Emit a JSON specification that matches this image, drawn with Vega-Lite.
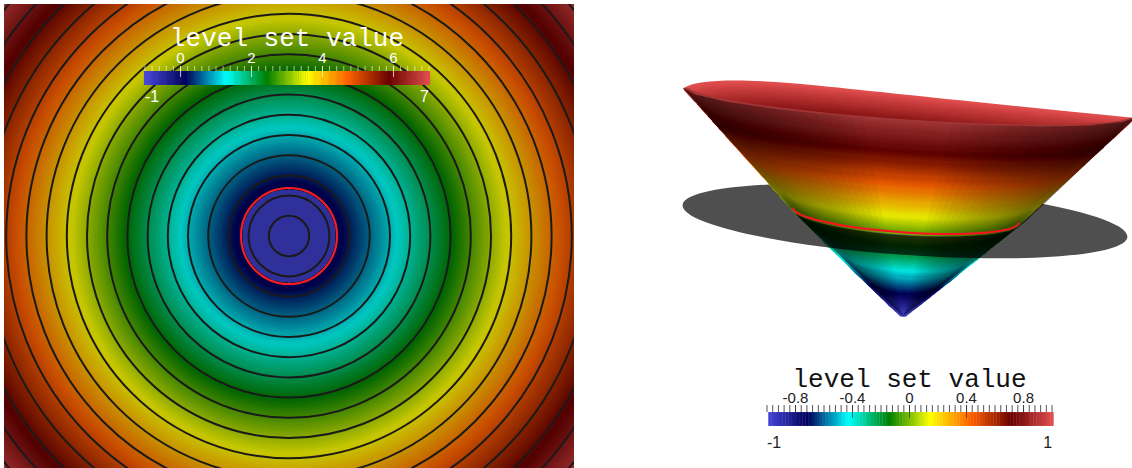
{"$schema":"https://vega.github.io/schema/vega-lite/v6.json","background":"white","padding":{"left":4,"top":4,"right":0,"bottom":0},"spacing":18,"config":{"view":{"stroke":null}},
"resolve":{"scale":{"color":"independent","size":"independent","shape":"independent","opacity":"independent","radius":"independent"}},
"datasets":{
"rings":[{"level":7},{"level":6.95},{"level":6.9},{"level":6.85},{"level":6.8},{"level":6.75},{"level":6.7},{"level":6.65},{"level":6.6},{"level":6.55},{"level":6.5},{"level":6.45},{"level":6.4},{"level":6.35},{"level":6.3},{"level":6.25},{"level":6.2},{"level":6.15},{"level":6.1},{"level":6.05},{"level":6},{"level":5.95},{"level":5.9},{"level":5.85},{"level":5.8},{"level":5.75},{"level":5.7},{"level":5.65},{"level":5.6},{"level":5.55},{"level":5.5},{"level":5.45},{"level":5.4},{"level":5.35},{"level":5.3},{"level":5.25},{"level":5.2},{"level":5.15},{"level":5.1},{"level":5.05},{"level":5},{"level":4.95},{"level":4.9},{"level":4.85},{"level":4.8},{"level":4.75},{"level":4.7},{"level":4.65},{"level":4.6},{"level":4.55},{"level":4.5},{"level":4.45},{"level":4.4},{"level":4.35},{"level":4.3},{"level":4.25},{"level":4.2},{"level":4.15},{"level":4.1},{"level":4.05},{"level":4},{"level":3.95},{"level":3.9},{"level":3.85},{"level":3.8},{"level":3.75},{"level":3.7},{"level":3.65},{"level":3.6},{"level":3.55},{"level":3.5},{"level":3.45},{"level":3.4},{"level":3.35},{"level":3.3},{"level":3.25},{"level":3.2},{"level":3.15},{"level":3.1},{"level":3.05},{"level":3},{"level":2.95},{"level":2.9},{"level":2.85},{"level":2.8},{"level":2.75},{"level":2.7},{"level":2.65},{"level":2.6},{"level":2.55},{"level":2.5},{"level":2.45},{"level":2.4},{"level":2.35},{"level":2.3},{"level":2.25},{"level":2.2},{"level":2.15},{"level":2.1},{"level":2.05},{"level":2},{"level":1.95},{"level":1.9},{"level":1.85},{"level":1.8},{"level":1.75},{"level":1.7},{"level":1.65},{"level":1.6},{"level":1.55},{"level":1.5},{"level":1.45},{"level":1.4},{"level":1.35},{"level":1.3},{"level":1.25},{"level":1.2},{"level":1.15},{"level":1.1},{"level":1.05},{"level":1},{"level":0.95},{"level":0.9},{"level":0.85},{"level":0.8},{"level":0.75},{"level":0.7},{"level":0.65},{"level":0.6},{"level":0.55},{"level":0.5},{"level":0.45},{"level":0.4},{"level":0.35},{"level":0.3},{"level":0.25},{"level":0.2},{"level":0.15},{"level":0.1},{"level":0.05},{"level":0},{"level":-0.05},{"level":-0.1},{"level":-0.15},{"level":-0.2},{"level":-0.25},{"level":-0.3},{"level":-0.35},{"level":-0.4},{"level":-0.45},{"level":-0.5},{"level":-0.55},{"level":-0.6},{"level":-0.65},{"level":-0.7},{"level":-0.75},{"level":-0.8},{"level":-0.85},{"level":-0.9},{"level":-0.95},{"level":-1}],
"contours":[{"level":6.575},{"level":6.154},{"level":5.733},{"level":5.313},{"level":4.892},{"level":4.471},{"level":4.05},{"level":3.629},{"level":3.208},{"level":2.788},{"level":2.367},{"level":1.946},{"level":1.525},{"level":1.104},{"level":0.683},{"level":0.262},{"level":-0.158},{"level":-0.579}],
"ticksL":[{"level":-1},{"level":-0.8},{"level":-0.6},{"level":-0.4},{"level":-0.2},{"level":0},{"level":0.2},{"level":0.4},{"level":0.6},{"level":0.8},{"level":1},{"level":1.2},{"level":1.4},{"level":1.6},{"level":1.8},{"level":2},{"level":2.2},{"level":2.4},{"level":2.6},{"level":2.8},{"level":3},{"level":3.2},{"level":3.4},{"level":3.6},{"level":3.8},{"level":4},{"level":4.2},{"level":4.4},{"level":4.6},{"level":4.8},{"level":5},{"level":5.2},{"level":5.4},{"level":5.6},{"level":5.8},{"level":6},{"level":6.2},{"level":6.4},{"level":6.6},{"level":6.8},{"level":7}],
"ticksR":[{"level":-1},{"level":-0.96},{"level":-0.92},{"level":-0.88},{"level":-0.84},{"level":-0.8},{"level":-0.76},{"level":-0.72},{"level":-0.68},{"level":-0.64},{"level":-0.6},{"level":-0.56},{"level":-0.52},{"level":-0.48},{"level":-0.44},{"level":-0.4},{"level":-0.36},{"level":-0.32},{"level":-0.28},{"level":-0.24},{"level":-0.2},{"level":-0.16},{"level":-0.12},{"level":-0.08},{"level":-0.04},{"level":0},{"level":0.04},{"level":0.08},{"level":0.12},{"level":0.16},{"level":0.2},{"level":0.24},{"level":0.28},{"level":0.32},{"level":0.36},{"level":0.4},{"level":0.44},{"level":0.48},{"level":0.52},{"level":0.56},{"level":0.6},{"level":0.64},{"level":0.68},{"level":0.72},{"level":0.76},{"level":0.8},{"level":0.84},{"level":0.88},{"level":0.92},{"level":0.96},{"level":1}],
"cone":[{"level":1,"x":0.054,"y":1.885,"half":2,"curve":"c1"},{"level":0.98,"x":0.053,"y":1.865,"half":1.98,"curve":"c1"},{"level":0.96,"x":0.053,"y":1.845,"half":1.96,"curve":"c1"},{"level":0.94,"x":0.052,"y":1.826,"half":1.94,"curve":"c1"},{"level":0.92,"x":0.052,"y":1.806,"half":1.92,"curve":"c1"},{"level":0.9,"x":0.051,"y":1.786,"half":1.9,"curve":"c1"},{"level":0.88,"x":0.051,"y":1.766,"half":1.88,"curve":"c1"},{"level":0.86,"x":0.05,"y":1.746,"half":1.86,"curve":"c2"},{"level":0.84,"x":0.05,"y":1.726,"half":1.84,"curve":"c2"},{"level":0.82,"x":0.049,"y":1.707,"half":1.82,"curve":"c2"},{"level":0.8,"x":0.049,"y":1.687,"half":1.8,"curve":"c2"},{"level":0.78,"x":0.048,"y":1.667,"half":1.78,"curve":"c2"},{"level":0.76,"x":0.048,"y":1.647,"half":1.76,"curve":"c2"},{"level":0.74,"x":0.047,"y":1.627,"half":1.74,"curve":"c3"},{"level":0.72,"x":0.046,"y":1.608,"half":1.72,"curve":"c3"},{"level":0.7,"x":0.046,"y":1.588,"half":1.7,"curve":"c3"},{"level":0.68,"x":0.045,"y":1.568,"half":1.68,"curve":"c3"},{"level":0.66,"x":0.045,"y":1.548,"half":1.66,"curve":"c3"},{"level":0.64,"x":0.044,"y":1.528,"half":1.64,"curve":"c3"},{"level":0.62,"x":0.044,"y":1.508,"half":1.62,"curve":"c4"},{"level":0.6,"x":0.043,"y":1.489,"half":1.6,"curve":"c4"},{"level":0.58,"x":0.043,"y":1.469,"half":1.58,"curve":"c4"},{"level":0.56,"x":0.042,"y":1.449,"half":1.56,"curve":"c4"},{"level":0.54,"x":0.042,"y":1.429,"half":1.54,"curve":"c4"},{"level":0.52,"x":0.041,"y":1.409,"half":1.52,"curve":"c4"},{"level":0.5,"x":0.041,"y":1.39,"half":1.5,"curve":"c4"},{"level":0.48,"x":0.04,"y":1.37,"half":1.48,"curve":"c5"},{"level":0.46,"x":0.039,"y":1.35,"half":1.46,"curve":"c5"},{"level":0.44,"x":0.039,"y":1.33,"half":1.44,"curve":"c5"},{"level":0.42,"x":0.038,"y":1.31,"half":1.42,"curve":"c5"},{"level":0.4,"x":0.038,"y":1.29,"half":1.4,"curve":"c5"},{"level":0.38,"x":0.037,"y":1.271,"half":1.38,"curve":"c5"},{"level":0.36,"x":0.037,"y":1.251,"half":1.36,"curve":"c6"},{"level":0.34,"x":0.036,"y":1.231,"half":1.34,"curve":"c6"},{"level":0.32,"x":0.036,"y":1.211,"half":1.32,"curve":"c6"},{"level":0.3,"x":0.035,"y":1.191,"half":1.3,"curve":"c6"},{"level":0.28,"x":0.035,"y":1.171,"half":1.28,"curve":"c6"},{"level":0.26,"x":0.034,"y":1.152,"half":1.26,"curve":"c6"},{"level":0.24,"x":0.033,"y":1.132,"half":1.24,"curve":"c7"},{"level":0.22,"x":0.033,"y":1.112,"half":1.22,"curve":"c7"},{"level":0.2,"x":0.032,"y":1.092,"half":1.2,"curve":"c7"},{"level":0.18,"x":0.032,"y":1.072,"half":1.18,"curve":"c7"},{"level":0.16,"x":0.031,"y":1.053,"half":1.16,"curve":"c7"},{"level":0.14,"x":0.031,"y":1.033,"half":1.14,"curve":"c7"},{"level":0.12,"x":0.03,"y":1.013,"half":1.12,"curve":"c8"},{"level":0.1,"x":0.03,"y":0.993,"half":1.1,"curve":"c8"},{"level":0.08,"x":0.029,"y":0.973,"half":1.08,"curve":"c8"},{"level":0.06,"x":0.029,"y":0.953,"half":1.06,"curve":"c8"},{"level":0.04,"x":0.028,"y":0.934,"half":1.04,"curve":"c8"},{"level":0.02,"x":0.028,"y":0.914,"half":1.02,"curve":"c8"},{"level":0,"x":0.027,"y":0.894,"half":1,"curve":"c8"},{"level":-0.02,"x":0.026,"y":0.876,"half":0.98,"curve":"c9"},{"level":-0.04,"x":0.026,"y":0.858,"half":0.96,"curve":"c9"},{"level":-0.06,"x":0.025,"y":0.84,"half":0.94,"curve":"c9"},{"level":-0.08,"x":0.025,"y":0.822,"half":0.92,"curve":"c9"},{"level":-0.1,"x":0.024,"y":0.805,"half":0.9,"curve":"c9"},{"level":-0.12,"x":0.024,"y":0.787,"half":0.88,"curve":"c9"},{"level":-0.14,"x":0.023,"y":0.769,"half":0.86,"curve":"c9"},{"level":-0.16,"x":0.023,"y":0.751,"half":0.84,"curve":"c9"},{"level":-0.18,"x":0.022,"y":0.733,"half":0.82,"curve":"c9"},{"level":-0.2,"x":0.022,"y":0.715,"half":0.8,"curve":"c9"},{"level":-0.22,"x":0.021,"y":0.697,"half":0.78,"curve":"c9"},{"level":-0.24,"x":0.021,"y":0.679,"half":0.76,"curve":"c9"},{"level":-0.26,"x":0.02,"y":0.662,"half":0.74,"curve":"c10"},{"level":-0.28,"x":0.019,"y":0.644,"half":0.72,"curve":"c10"},{"level":-0.3,"x":0.019,"y":0.626,"half":0.7,"curve":"c10"},{"level":-0.32,"x":0.018,"y":0.608,"half":0.68,"curve":"c10"},{"level":-0.34,"x":0.018,"y":0.59,"half":0.66,"curve":"c10"},{"level":-0.36,"x":0.017,"y":0.572,"half":0.64,"curve":"c10"},{"level":-0.38,"x":0.017,"y":0.554,"half":0.62,"curve":"c10"},{"level":-0.4,"x":0.016,"y":0.536,"half":0.6,"curve":"c10"},{"level":-0.42,"x":0.016,"y":0.519,"half":0.58,"curve":"c10"},{"level":-0.44,"x":0.015,"y":0.501,"half":0.56,"curve":"c10"},{"level":-0.46,"x":0.015,"y":0.483,"half":0.54,"curve":"c10"},{"level":-0.48,"x":0.014,"y":0.465,"half":0.52,"curve":"c10"},{"level":-0.5,"x":0.014,"y":0.447,"half":0.5,"curve":"c10"},{"level":-0.52,"x":0.013,"y":0.429,"half":0.48,"curve":"c11"},{"level":-0.54,"x":0.012,"y":0.411,"half":0.46,"curve":"c11"},{"level":-0.56,"x":0.012,"y":0.393,"half":0.44,"curve":"c11"},{"level":-0.58,"x":0.011,"y":0.375,"half":0.42,"curve":"c11"},{"level":-0.6,"x":0.011,"y":0.358,"half":0.4,"curve":"c11"},{"level":-0.62,"x":0.01,"y":0.34,"half":0.38,"curve":"c11"},{"level":-0.64,"x":0.01,"y":0.322,"half":0.36,"curve":"c11"},{"level":-0.66,"x":0.009,"y":0.304,"half":0.34,"curve":"c11"},{"level":-0.68,"x":0.009,"y":0.286,"half":0.32,"curve":"c11"},{"level":-0.7,"x":0.008,"y":0.268,"half":0.3,"curve":"c11"},{"level":-0.72,"x":0.008,"y":0.25,"half":0.28,"curve":"c11"},{"level":-0.74,"x":0.007,"y":0.232,"half":0.26,"curve":"c11"},{"level":-0.76,"x":0.006,"y":0.215,"half":0.24,"curve":"c12"},{"level":-0.78,"x":0.006,"y":0.197,"half":0.22,"curve":"c12"},{"level":-0.8,"x":0.005,"y":0.179,"half":0.2,"curve":"c12"},{"level":-0.82,"x":0.005,"y":0.161,"half":0.18,"curve":"c12"},{"level":-0.84,"x":0.004,"y":0.143,"half":0.16,"curve":"c12"},{"level":-0.86,"x":0.004,"y":0.125,"half":0.14,"curve":"c12"},{"level":-0.88,"x":0.003,"y":0.107,"half":0.12,"curve":"c12"},{"level":-0.9,"x":0.003,"y":0.089,"half":0.1,"curve":"c12"},{"level":-0.92,"x":0.002,"y":0.072,"half":0.08,"curve":"c12"},{"level":-0.94,"x":0.002,"y":0.054,"half":0.06,"curve":"c12"},{"level":-0.96,"x":0.001,"y":0.036,"half":0.04,"curve":"c12"},{"level":-0.98,"x":0.001,"y":0.018,"half":0.02,"curve":"c12"}],
"shade":[{"band":"l1"},{"band":"l2"},{"band":"l3"},{"band":"l4"},{"band":"l5"},{"band":"l6"},{"band":"l7"},{"band":"l8"},{"band":"l9"},{"band":"l10"},{"band":"l11"},{"band":"l12"},{"band":"l13"},{"band":"l14"},{"band":"l15"},{"band":"l16"},{"band":"l17"},{"band":"l18"},{"band":"r1"},{"band":"r2"},{"band":"r3"},{"band":"r4"},{"band":"r5"},{"band":"r6"},{"band":"r7"},{"band":"r8"},{"band":"r9"},{"band":"r10"},{"band":"r11"},{"band":"r12"},{"band":"r13"},{"band":"r14"},{"band":"r15"},{"band":"r16"},{"band":"r17"},{"band":"r18"}]
},
"hconcat":[
{"width":570,"height":464,
"resolve":{"scale":{"x":"independent","color":"independent"}},
"layer":[
{"data":{"name":"rings"},"mark":{"type":"arc","theta":0,"theta2":6.2832,"clip":true},"encoding":{"radius":{"field":"level","type":"quantitative","stack":null,"scale":{"type":"linear","domain":[-1,7],"range":[0,384],"zero":false}},"color":{"field":"level","type":"quantitative","legend":null,"scale":{"domain":[-1,0.143,1.286,2.429,3.571,4.714,5.857,7],"range":["#30309a","#000048","#00c8c0","#006400","#c8c800","#c84c00","#520000","#b03c3c"],"interpolate":"rgb"}}}},
{"data":{"name":"contours"},"mark":{"type":"arc","theta":0,"theta2":6.2832,"clip":true,"filled":false,"stroke":"#1a1a1a","strokeWidth":2},"encoding":{"radius":{"field":"level","type":"quantitative","stack":null,"scale":{"type":"linear","domain":[-1,7],"range":[0,384],"zero":false}}}},
{"data":{"values":[{"level":0}]},"mark":{"type":"arc","theta":0,"theta2":6.2832,"clip":true,"filled":false,"stroke":"#ff1a2a","strokeWidth":2},"encoding":{"radius":{"field":"level","type":"quantitative","stack":null,"scale":{"type":"linear","domain":[-1,7],"range":[0,384],"zero":false}}}},
{"data":{"name":"rings"},"mark":{"type":"rule","strokeWidth":2.2},"encoding":{"x":{"field":"level","type":"quantitative","axis":null,"scale":{"domain":[-4.972,11.085],"nice":false,"zero":false}},"y":{"datum":0,"axis":null,"scale":{"domain":[-27.357,5.786],"nice":false,"zero":false}},"y2":{"datum":1},"color":{"field":"level","type":"quantitative","legend":null,"scale":{"domain":[-1,0.143,1.286,2.429,3.571,4.714,5.857,7],"range":["#4747db","#00005b","#00ffff","#008000","#ffff00","#ff6100","#6b0000","#e04d4d"],"interpolate":"rgb"}}}},
{"data":{"name":"ticksL"},"mark":{"type":"rule","stroke":"white","opacity":0.6,"strokeWidth":1},"encoding":{"x":{"field":"level","type":"quantitative","axis":null,"scale":{"domain":[-4.972,11.085],"nice":false,"zero":false}},"y":{"datum":1,"scale":{"domain":[-27.357,5.786],"nice":false,"zero":false},"axis":null},"y2":{"datum":1.357}}},
{"data":{"values":[{"level":0,"label":"0"},{"level":2,"label":"2"},{"level":4,"label":"4"},{"level":6,"label":"6"}]},"layer":[
{"mark":{"type":"rule","stroke":"white","opacity":0.7,"strokeWidth":1},"encoding":{"x":{"field":"level","type":"quantitative","axis":null,"scale":{"domain":[-4.972,11.085],"nice":false,"zero":false}},"y":{"datum":0.571,"scale":{"domain":[-27.357,5.786],"nice":false,"zero":false},"axis":null},"y2":{"datum":1.357}}},
{"mark":{"type":"text","font":"Liberation Sans","fontSize":15,"fill":"white","align":"center","baseline":"alphabetic"},"encoding":{"x":{"field":"level","type":"quantitative","axis":null,"scale":{"domain":[-4.972,11.085],"nice":false,"zero":false}},"y":{"datum":1.571,"scale":{"domain":[-27.357,5.786],"nice":false,"zero":false},"axis":null},"text":{"field":"label"}}}]},
{"data":{"values":[{"level":-1,"label":"-1"}]},"mark":{"type":"text","font":"Liberation Sans","fontSize":16,"fill":"white","align":"left","baseline":"alphabetic"},"encoding":{"x":{"field":"level","type":"quantitative","axis":null,"scale":{"domain":[-4.972,11.085],"nice":false,"zero":false}},"y":{"datum":-1.214,"scale":{"domain":[-27.357,5.786],"nice":false,"zero":false},"axis":null},"text":{"field":"label"}}},
{"data":{"values":[{"level":7,"label":"7"}]},"mark":{"type":"text","font":"Liberation Sans","fontSize":16,"fill":"white","align":"right","baseline":"alphabetic"},"encoding":{"x":{"field":"level","type":"quantitative","axis":null,"scale":{"domain":[-4.972,11.085],"nice":false,"zero":false}},"y":{"datum":-1.214,"scale":{"domain":[-27.357,5.786],"nice":false,"zero":false},"axis":null},"text":{"field":"label"}}},
{"data":{"values":[{"level":3,"label":"level set value"}]},"mark":{"type":"text","font":"Liberation Mono","fontSize":26,"fill":"white","align":"center","baseline":"alphabetic"},"encoding":{"x":{"field":"level","type":"quantitative","axis":null,"scale":{"domain":[-4.972,11.085],"nice":false,"zero":false}},"y":{"datum":2.786,"scale":{"domain":[-27.357,5.786],"nice":false,"zero":false},"axis":null},"text":{"field":"label"}}}
]},
{"width":540,"height":464,
"resolve":{"scale":{"x":"independent","shape":"independent","size":"independent","color":"independent"}},
"layer":[
{"data":{"name":"cone"},"transform":[{"filter":"datum.level<0"}],"mark":{"type":"point","filled":false,"opacity":1,"strokeWidth":4.5,"angle":3.8},"encoding":{"x":{"field":"x","type":"quantitative","axis":null,"scale":{"domain":[-2.752,2.027],"nice":false,"zero":false}},"y":{"field":"y","type":"quantitative","axis":null,"scale":{"domain":[-1.345,2.761],"nice":false,"zero":false}},"size":{"field":"half","type":"quantitative","legend":null,"scale":{"type":"pow","exponent":2,"domain":[0,2.5],"range":[0,312900]}},"shape":{"field":"curve","type":"nominal","legend":null,"scale":{"domain":["c9","c10","c11","c12"],"range":["M-1,0 A1,0.19 0 0,0 1,0","M-1,0 A1,0.22 0 0,0 1,0","M-1,0 A1,0.25 0 0,0 1,0","M-1,0 A1,0.27 0 0,0 1,0"]}},"color":{"field":"level","type":"quantitative","legend":null,"scale":{"domain":[-1,-0.714,-0.429,-0.143,0.143,0.429,0.714,1],"range":["#4040c0","#000052","#00e6e0","#007000","#e6e600","#e65700","#5c0000","#a03535"],"interpolate":"rgb"}}}},
{"data":{"values":[{"x":0.018,"y":0.841,"half":1.973}]},"mark":{"type":"point","filled":true,"fill":"black","opacity":0.69,"stroke":null,"angle":4.1,"shape":"M-1,0 A1,0.152 0 0,1 1,0 A1,0.152 0 0,1 -1,0 Z"},"encoding":{"x":{"field":"x","type":"quantitative","axis":null,"scale":{"domain":[-2.752,2.027],"nice":false,"zero":false}},"y":{"field":"y","type":"quantitative","axis":null,"scale":{"domain":[-1.345,2.761],"nice":false,"zero":false}},"size":{"field":"half","type":"quantitative","legend":null,"scale":{"type":"pow","exponent":2,"domain":[0,2.5],"range":[0,319225]}}}},
{"data":{"name":"cone"},"transform":[{"filter":"datum.level>=0.7"}],"mark":{"type":"point","filled":true,"opacity":1,"stroke":null,"angle":3.8,"shape":"M-1,0 C-0.93,-0.05 -0.7,-0.06 -0.4,-0.05 C-0.1,-0.04 0.5,-0.015 1,0 A1,0.08 0 0,1 -1,0 Z"},"encoding":{"x":{"field":"x","type":"quantitative","axis":null,"scale":{"domain":[-2.752,2.027],"nice":false,"zero":false}},"y":{"field":"y","type":"quantitative","axis":null,"scale":{"domain":[-1.345,2.761],"nice":false,"zero":false}},"size":{"field":"half","type":"quantitative","legend":null,"scale":{"type":"pow","exponent":2,"domain":[0,2.5],"range":[0,319225]}},"color":{"field":"level","type":"quantitative","legend":null,"scale":{"domain":[-1,-0.714,-0.429,-0.143,0.143,0.429,0.714,1],"range":["#4747db","#00005b","#00ffff","#008000","#ffff00","#ff6100","#6b0000","#e04d4d"],"interpolate":"rgb"}}}},
{"data":{"name":"cone"},"transform":[{"filter":"datum.level>=0"}],"mark":{"type":"point","filled":false,"opacity":1,"strokeWidth":5,"angle":3.8},"encoding":{"x":{"field":"x","type":"quantitative","axis":null,"scale":{"domain":[-2.752,2.027],"nice":false,"zero":false}},"y":{"field":"y","type":"quantitative","axis":null,"scale":{"domain":[-1.345,2.761],"nice":false,"zero":false}},"size":{"field":"half","type":"quantitative","legend":null,"scale":{"type":"pow","exponent":2,"domain":[0,2.5],"range":[0,312900]}},"shape":{"field":"curve","type":"nominal","legend":null,"scale":{"domain":["c1","c2","c3","c4","c5","c6","c7","c8"],"range":["M-1,0 A1,0.085 0 0,0 1,0","M-1,0 A1,0.09 0 0,0 1,0","M-1,0 A1,0.098 0 0,0 1,0","M-1,0 A1,0.11 0 0,0 1,0","M-1,0 A1,0.12 0 0,0 1,0","M-1,0 A1,0.13 0 0,0 1,0","M-1,0 A1,0.14 0 0,0 1,0","M-1,0 A1,0.155 0 0,0 1,0"]}},"color":{"field":"level","type":"quantitative","legend":null,"scale":{"domain":[-1,-0.714,-0.429,-0.143,0.143,0.429,0.714,1],"range":["#4040c0","#000052","#00e6e0","#007000","#e6e600","#e65700","#5c0000","#a03535"],"interpolate":"rgb"}}}},
{"data":{"name":"shade"},"mark":{"type":"point","filled":true,"fill":"black","stroke":null,"opacity":0.035,"size":51076},"encoding":{"x":{"datum":0,"axis":null,"scale":{"domain":[-2.752,2.027],"nice":false,"zero":false}},"y":{"datum":0,"axis":null,"scale":{"domain":[-1.345,2.761],"nice":false,"zero":false}},"shape":{"field":"band","type":"nominal","legend":null,"scale":{"domain":["l1","l2","l3","l4","l5","l6","l7","l8","l9","l10","l11","l12","l13","l14","l15","l16","l17","l18","r1","r2","r3","r4","r5","r6","r7","r8","r9","r10","r11","r12","r13","r14","r15","r16","r17","r18"],"range":[
"M0,0 L-0.357,-1.756 L-0.755,-1.792 L-1.153,-1.837 L-1.549,-1.894 L-1.846,-1.961 L-1.942,-2.018 L-1,-0.96 Z",
"M0,0 L-0.456,-1.765 L-0.755,-1.792 L-1.153,-1.837 L-1.549,-1.894 L-1.846,-1.961 L-1.942,-2.018 L-1,-0.96 Z",
"M0,0 L-0.556,-1.774 L-0.755,-1.792 L-1.153,-1.837 L-1.549,-1.894 L-1.846,-1.961 L-1.942,-2.018 L-1,-0.96 Z",
"M0,0 L-0.655,-1.783 L-0.755,-1.792 L-1.153,-1.837 L-1.549,-1.894 L-1.846,-1.961 L-1.942,-2.018 L-1,-0.96 Z",
"M0,0 L-0.755,-1.792 L-1.153,-1.837 L-1.549,-1.894 L-1.846,-1.961 L-1.942,-2.018 L-1,-0.96 Z",
"M0,0 L-0.855,-1.803 L-1.153,-1.837 L-1.549,-1.894 L-1.846,-1.961 L-1.942,-2.018 L-1,-0.96 Z",
"M0,0 L-0.954,-1.814 L-1.153,-1.837 L-1.549,-1.894 L-1.846,-1.961 L-1.942,-2.018 L-1,-0.96 Z",
"M0,0 L-1.054,-1.825 L-1.153,-1.837 L-1.549,-1.894 L-1.846,-1.961 L-1.942,-2.018 L-1,-0.96 Z",
"M0,0 L-1.153,-1.837 L-1.549,-1.894 L-1.846,-1.961 L-1.942,-2.018 L-1,-0.96 Z",
"M0,0 L-1.252,-1.851 L-1.549,-1.894 L-1.846,-1.961 L-1.942,-2.018 L-1,-0.96 Z",
"M0,0 L-1.351,-1.865 L-1.549,-1.894 L-1.846,-1.961 L-1.942,-2.018 L-1,-0.96 Z",
"M0,0 L-1.45,-1.88 L-1.549,-1.894 L-1.846,-1.961 L-1.942,-2.018 L-1,-0.96 Z",
"M0,0 L-1.549,-1.894 L-1.846,-1.961 L-1.942,-2.018 L-1,-0.96 Z",
"M0,0 L-1.625,-1.912 L-1.846,-1.961 L-1.942,-2.018 L-1,-0.96 Z",
"M0,0 L-1.7,-1.93 L-1.846,-1.961 L-1.942,-2.018 L-1,-0.96 Z",
"M0,0 L-1.773,-1.945 L-1.846,-1.961 L-1.942,-2.018 L-1,-0.96 Z",
"M0,0 L-1.846,-1.961 L-1.942,-2.018 L-1,-0.96 Z",
"M0,0 L-1.9,-1.99 L-1.942,-2.018 L-1,-0.96 Z",
"M0,0 L0.434,-1.703 L0.832,-1.686 L1.238,-1.678 L1.637,-1.683 L1.947,-1.717 L2.049,-1.752 L1.075,-0.828 Z",
"M0,0 L0.534,-1.698 L0.832,-1.686 L1.238,-1.678 L1.637,-1.683 L1.947,-1.717 L2.049,-1.752 L1.075,-0.828 Z",
"M0,0 L0.633,-1.694 L0.832,-1.686 L1.238,-1.678 L1.637,-1.683 L1.947,-1.717 L2.049,-1.752 L1.075,-0.828 Z",
"M0,0 L0.732,-1.69 L0.832,-1.686 L1.238,-1.678 L1.637,-1.683 L1.947,-1.717 L2.049,-1.752 L1.075,-0.828 Z",
"M0,0 L0.832,-1.686 L1.238,-1.678 L1.637,-1.683 L1.947,-1.717 L2.049,-1.752 L1.075,-0.828 Z",
"M0,0 L0.933,-1.684 L1.238,-1.678 L1.637,-1.683 L1.947,-1.717 L2.049,-1.752 L1.075,-0.828 Z",
"M0,0 L1.035,-1.682 L1.238,-1.678 L1.637,-1.683 L1.947,-1.717 L2.049,-1.752 L1.075,-0.828 Z",
"M0,0 L1.136,-1.68 L1.238,-1.678 L1.637,-1.683 L1.947,-1.717 L2.049,-1.752 L1.075,-0.828 Z",
"M0,0 L1.238,-1.678 L1.637,-1.683 L1.947,-1.717 L2.049,-1.752 L1.075,-0.828 Z",
"M0,0 L1.337,-1.679 L1.637,-1.683 L1.947,-1.717 L2.049,-1.752 L1.075,-0.828 Z",
"M0,0 L1.437,-1.68 L1.637,-1.683 L1.947,-1.717 L2.049,-1.752 L1.075,-0.828 Z",
"M0,0 L1.537,-1.681 L1.637,-1.683 L1.947,-1.717 L2.049,-1.752 L1.075,-0.828 Z",
"M0,0 L1.637,-1.683 L1.947,-1.717 L2.049,-1.752 L1.075,-0.828 Z",
"M0,0 L1.71,-1.69 L1.947,-1.717 L2.049,-1.752 L1.075,-0.828 Z",
"M0,0 L1.79,-1.7 L1.947,-1.717 L2.049,-1.752 L1.075,-0.828 Z",
"M0,0 L1.87,-1.709 L1.947,-1.717 L2.049,-1.752 L1.075,-0.828 Z",
"M0,0 L1.947,-1.717 L2.049,-1.752 L1.075,-0.828 Z",
"M0,0 L2,-1.735 L2.049,-1.752 L1.075,-0.828 Z"]}}}},
{"data":{"values":[{"x":0.027,"y":0.894,"half":1}]},"mark":{"type":"point","filled":false,"opacity":1,"stroke":"#ff1020","strokeWidth":2,"angle":3.8,"shape":"M-1,0 A1,0.155 0 0,0 1,0"},"encoding":{"x":{"field":"x","type":"quantitative","axis":null,"scale":{"domain":[-2.752,2.027],"nice":false,"zero":false}},"y":{"field":"y","type":"quantitative","axis":null,"scale":{"domain":[-1.345,2.761],"nice":false,"zero":false}},"size":{"field":"half","type":"quantitative","legend":null,"scale":{"type":"pow","exponent":2,"domain":[0,2.5],"range":[0,319225]}}}},
{"data":{"name":"cone"},"mark":{"type":"rule","strokeWidth":3.2},"encoding":{"x":{"field":"level","type":"quantitative","axis":null,"scale":{"domain":[-2.228,1.561],"nice":false,"zero":false}},"y":{"datum":-0.973,"axis":null,"scale":{"domain":[-1.345,2.761],"nice":false,"zero":false}},"y2":{"datum":-0.85},"color":{"field":"level","type":"quantitative","legend":null,"scale":{"domain":[-1,-0.714,-0.429,-0.143,0.143,0.429,0.714,1],"range":["#4747db","#00005b","#00ffff","#008000","#ffff00","#ff6100","#6b0000","#e04d4d"],"interpolate":"rgb"}}}},
{"data":{"name":"ticksR"},"mark":{"type":"rule","stroke":"#555555","strokeWidth":1},"encoding":{"x":{"field":"level","type":"quantitative","axis":null,"scale":{"domain":[-2.228,1.561],"nice":false,"zero":false}},"y":{"datum":-0.85,"scale":{"domain":[-1.345,2.761],"nice":false,"zero":false},"axis":null},"y2":{"datum":-0.788}}},
{"data":{"values":[{"level":-0.8,"label":"-0.8"},{"level":-0.4,"label":"-0.4"},{"level":0,"label":"0"},{"level":0.4,"label":"0.4"},{"level":0.8,"label":"0.8"}]},"layer":[
{"mark":{"type":"rule","stroke":"#333333","opacity":0.7,"strokeWidth":1},"encoding":{"x":{"field":"level","type":"quantitative","axis":null,"scale":{"domain":[-2.228,1.561],"nice":false,"zero":false}},"y":{"datum":-0.903,"scale":{"domain":[-1.345,2.761],"nice":false,"zero":false},"axis":null},"y2":{"datum":-0.788}}},
{"mark":{"type":"text","font":"Liberation Sans","fontSize":15,"fill":"#222222","align":"center","baseline":"alphabetic"},"encoding":{"x":{"field":"level","type":"quantitative","axis":null,"scale":{"domain":[-2.228,1.561],"nice":false,"zero":false}},"y":{"datum":-0.77,"scale":{"domain":[-1.345,2.761],"nice":false,"zero":false},"axis":null},"text":{"field":"label"}}}]},
{"data":{"values":[{"level":-1,"label":"-1"}]},"mark":{"type":"text","font":"Liberation Sans","fontSize":16,"fill":"#222222","align":"left","baseline":"alphabetic"},"encoding":{"x":{"field":"level","type":"quantitative","axis":null,"scale":{"domain":[-2.228,1.561],"nice":false,"zero":false}},"y":{"datum":-1.168,"scale":{"domain":[-1.345,2.761],"nice":false,"zero":false},"axis":null},"text":{"field":"label"}}},
{"data":{"values":[{"level":1,"label":"1"}]},"mark":{"type":"text","font":"Liberation Sans","fontSize":16,"fill":"#222222","align":"right","baseline":"alphabetic"},"encoding":{"x":{"field":"level","type":"quantitative","axis":null,"scale":{"domain":[-2.228,1.561],"nice":false,"zero":false}},"y":{"datum":-1.168,"scale":{"domain":[-1.345,2.761],"nice":false,"zero":false},"axis":null},"text":{"field":"label"}}},
{"data":{"values":[{"level":0,"label":"level set value"}]},"mark":{"type":"text","font":"Liberation Mono","fontSize":26,"fill":"#111111","align":"center","baseline":"alphabetic"},"encoding":{"x":{"field":"level","type":"quantitative","axis":null,"scale":{"domain":[-2.228,1.561],"nice":false,"zero":false}},"y":{"datum":-0.628,"scale":{"domain":[-1.345,2.761],"nice":false,"zero":false},"axis":null},"text":{"field":"label"}}}
]}
]}
